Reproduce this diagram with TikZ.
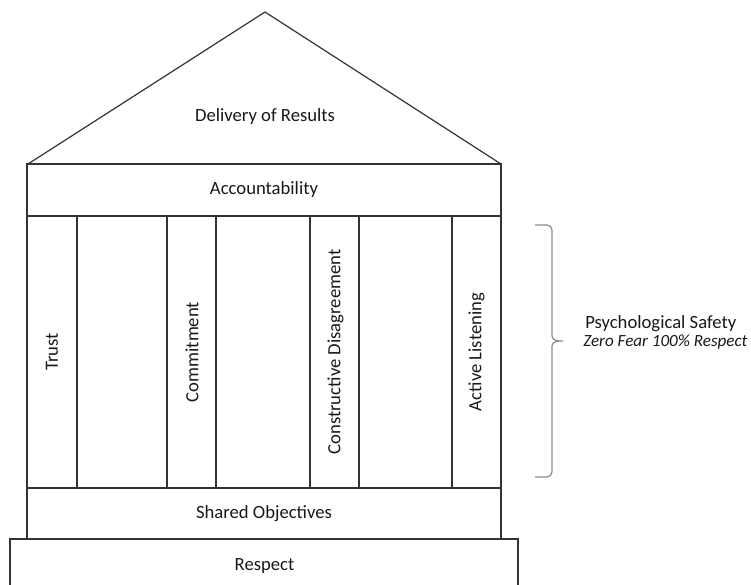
\documentclass[tikz,border=0pt]{standalone}
\usepackage{fontspec}
\setmainfont{Carlito}
\begin{document}
\begin{tikzpicture}[x=0.75pt,y=-0.75pt,
  edge/.style={draw=black!80,line width=0.9pt,line join=miter},
  lbl/.style={font=\fontsize{14}{16}\selectfont,text=black!90,inner sep=0pt},
  vlbl/.style={lbl,rotate=90},
  bracestyle/.style={draw=black!45,line width=0.9pt}]
\path[use as bounding box] (0,0) rectangle (751,585);
\clip (0,0) rectangle (751,585);
% roof
\coordinate (rl) at (28,164);
\coordinate (apex) at (265,12);
\coordinate (rr) at (501,164);
\draw[edge] (rl) -- (apex) -- (rr);
\node[lbl] (roof) at (265,117) {Delivery of Results};
% accountability
\draw[edge] (27,164) rectangle (501,216);
\node[lbl] (acc) at (264,190) {Accountability};
% pillars
\draw[edge] (27,216) rectangle (501,488);
\foreach \xx in {77,167,216,310,359,452}{\draw[edge] (\xx,216) -- (\xx,488);}
\node[vlbl] (trust) at (52,352) {Trust};
\node[vlbl] (commit) at (192,352) {Commitment};
\node[vlbl] (constr) at (335.5,352) {Constructive Disagreement};
\node[vlbl] (active) at (476.5,352) {Active Listening};
% shared objectives
\draw[edge] (27,488) rectangle (501,539);
\node[lbl] (shared) at (264,514) {Shared Objectives};
% respect
\draw[edge] (10,610) -- (10,539) -- (518,539) -- (518,610);
\node[lbl] (respect) at (264.5,566) {Respect};
% brace
\draw[bracestyle] (535,225) -- (547,225) to[out=0,in=90] (552,230) -- (552,336)
  to[out=-90,in=180] (563,341) to[out=180,in=90] (552,346) -- (552,472)
  to[out=-90,in=0] (547,477) -- (535,477);
\node[lbl,anchor=west,align=left] (psych) at (585,324) {Psychological Safety};
\node[lbl,anchor=west,font=\fontsize{12.8}{15}\selectfont\itshape] (zero) at (583,342.5) {Zero Fear 100\% Respect};
\end{tikzpicture}
\end{document}
